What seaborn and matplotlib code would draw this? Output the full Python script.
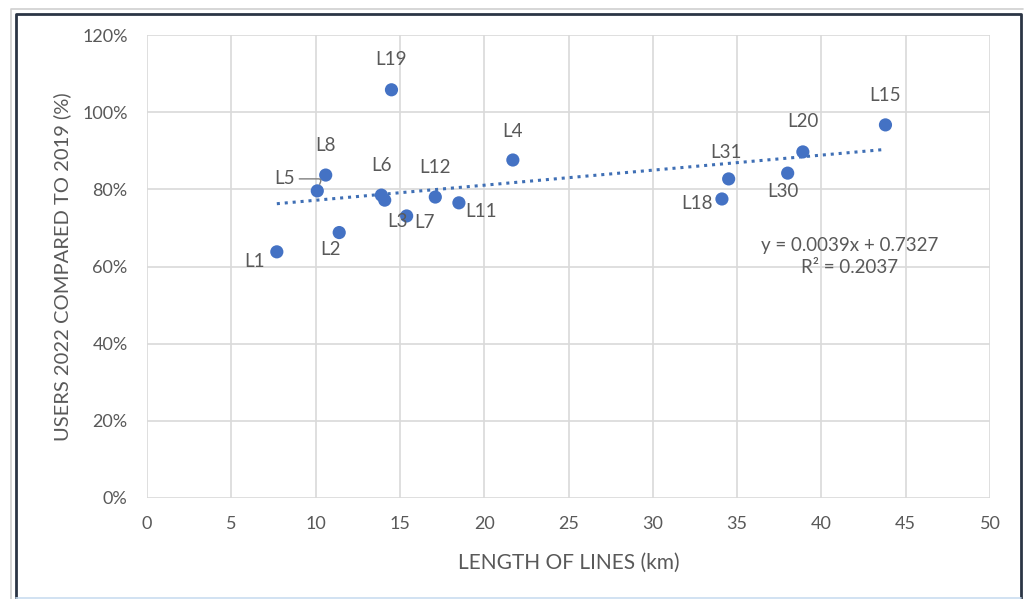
import matplotlib
matplotlib.use("Agg")
import matplotlib.pyplot as plt
import seaborn as sns
import numpy as np
import pandas as pd
from matplotlib.lines import Line2D
from matplotlib.ticker import PercentFormatter

# ---- data ----
lines = ["L1", "L5", "L8", "L2", "L6", "L3", "L19", "L7", "L12", "L11",
         "L4", "L18", "L31", "L30", "L20", "L15"]
length_km = [7.7, 10.1, 10.6, 11.4, 13.9, 14.1, 14.5, 15.4, 17.1, 18.5,
             21.7, 34.1, 34.5, 38.0, 38.9, 43.8]
users_ratio = [0.638, 0.796, 0.837, 0.688, 0.785, 0.772, 1.058, 0.731, 0.780, 0.765,
               0.876, 0.775, 0.827, 0.842, 0.897, 0.967]
trend_slope = 0.0039
trend_intercept = 0.7327
r_squared = 0.2037
x_ticks = [0, 5, 10, 15, 20, 25, 30, 35, 40, 45, 50]
y_ticks = [0.0, 0.2, 0.4, 0.6, 0.8, 1.0, 1.2]

# label offsets in pixels (dx, dy) from point, text centred
label_off = {
    "L1": (-22, -10), "L5": (-33, 12), "L8": (0, 30), "L2": (-9, -17),
    "L6": (0, 30), "L3": (13, -21), "L19": (0, 30), "L7": (18, -7),
    "L12": (0, 30), "L11": (22, -9), "L4": (0, 29), "L18": (-25, -5),
    "L31": (-3, 26), "L30": (-5, -18), "L20": (0, 30), "L15": (0, 29),
}

df = pd.DataFrame({"line": lines, "length": length_km, "users": users_ratio})

sns.set_theme(style="white")
plt.rcParams["font.family"] = ["Lato", "DejaVu Sans"]
text_color = "#595959"
point_color = "#4472C4"

fig = plt.figure(figsize=(10.24, 5.99), dpi=100)
W, H = 1024, 599
ax = fig.add_axes([147 / W, 1 - 498 / H, (990 - 147) / W, (498 - 35) / H])

sns.scatterplot(data=df, x="length", y="users", ax=ax, color=point_color,
                s=90, edgecolor="none", zorder=3, legend=False)

# trend line
xt = np.array([min(length_km), max(length_km)])
ax.plot(xt, trend_slope * xt + trend_intercept, linestyle=(0, (1, 1.6)),
        color="#3f6fb5", linewidth=2.2, zorder=2)

for name, x, y in zip(lines, length_km, users_ratio):
    dx, dy = label_off[name]
    ax.annotate(name, (x, y), xytext=(dx, dy), textcoords="offset pixels",
                ha="center", va="center", fontsize=13.5, color=text_color, zorder=4)

# leader line for L5
i5 = lines.index("L5")
ax.annotate("", (length_km[i5], users_ratio[i5]), xytext=(-18, 12),
            textcoords="offset pixels",
            arrowprops=dict(arrowstyle="-", color="#7f7f7f", lw=1,
                            connectionstyle="angle,angleA=0,angleB=70,rad=3",
                            shrinkA=0, shrinkB=5))

ax.text(41.7, 0.625, f"y = {trend_slope}x + {trend_intercept}\nR\u00b2 = {r_squared}",
        ha="center", va="center", fontsize=13.5, color=text_color, linespacing=1.35)

ax.set_xlim(0, 50)
ax.set_ylim(0, 1.2)
ax.set_xticks(x_ticks)
ax.set_yticks(y_ticks)
ax.yaxis.set_major_formatter(PercentFormatter(1.0, decimals=0))
ax.grid(True, color="#d9d9d9", linewidth=1.2)
for s in ax.spines.values():
    s.set_visible(False)
ax.tick_params(axis="y", colors=text_color, labelsize=13, length=0, pad=14)
ax.tick_params(axis="x", colors=text_color, labelsize=13, length=0, pad=13)
ax.set_xlabel("LENGTH OF LINES (km)", fontsize=15, color=text_color, labelpad=15)
ax.set_ylabel("USERS 2022 COMPARED TO 2019 (%)", fontsize=14.5, color=text_color, labelpad=8)

# outer frames (left, top, right)
def fline(xs, ys, **kw):
    fig.lines.append(Line2D([x / W for x in xs], [1 - y / H for y in ys],
                            transform=fig.transFigure, **kw))

fline([11, 11, 1023], [599, 9, 9], color="#d0d0d0", linewidth=1.2)
fline([16, 16, 1021, 1021], [599, 14, 14, 599], color="#2b3545", linewidth=2)
fline([16, 1021], [598, 598], color="#c9ddf0", linewidth=1.2)

fig.savefig("out.png", dpi=100)
